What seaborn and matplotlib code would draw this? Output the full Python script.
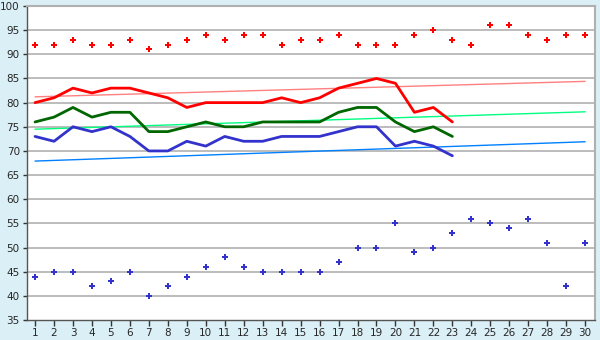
import numpy as np
import pandas as pd
import matplotlib
matplotlib.use("Agg")
import matplotlib.pyplot as plt
import seaborn as sns

days = list(range(1, 31))
line_days = list(range(1, 24))

# dane
red_points = [92, 92, 93, 92, 92, 93, 91, 92, 93, 94, 93, 94, 94, 92, 93,
              93, 94, 92, 92, 92, 94, 95, 93, 92, 96, 96, 94, 93, 94, 94]
blue_points = [44, 45, 45, 42, 43, 45, 40, 42, 44, 46, 48, 46, 45, 45, 45,
               45, 47, 50, 50, 55, 49, 50, 53, 56, 55, 54, 56, 51, 42, 51]
red_line = [80, 81, 83, 82, 83, 83, 82, 81, 79, 80, 80, 80, 80, 81, 80,
            81, 83, 84, 85, 84, 78, 79, 76]
green_line = [76, 77, 79, 77, 78, 78, 74, 74, 75, 76, 75, 75, 76, 76, 76,
              76, 78, 79, 79, 76, 74, 75, 73]
blue_line = [73, 72, 75, 74, 75, 73, 70, 70, 72, 71, 73, 72, 72, 73, 73,
             73, 74, 75, 75, 71, 72, 71, 69]

# linie trendu (początek i koniec)
trend_days = [1, 30]
red_trend = [81.2, 84.4]
green_trend = [74.5, 78.1]
blue_trend = [67.9, 71.9]

sns.set_style("white")
plt.rcParams["font.family"] = ["DejaVu Sans"]

fig = plt.figure(figsize=(6, 3.4), dpi=100, facecolor="#DAEFF6")
ax = fig.add_axes([0.0445, 0.0588, 0.9475, 0.9235])
ax.set_facecolor("white")

for g in np.arange(40, 101, 5):
    ax.axhline(g, color="#B0B0B0", lw=1.2, zorder=0)

sns.lineplot(x=trend_days, y=red_trend, color="#FF8080", lw=1, ax=ax)
sns.lineplot(x=trend_days, y=green_trend, color="#00FF80", lw=1, ax=ax)
sns.lineplot(x=trend_days, y=blue_trend, color="#0080FF", lw=1, ax=ax)

sns.lineplot(x=line_days, y=red_line, color="#FF0000", lw=2, ax=ax)
sns.lineplot(x=line_days, y=green_line, color="#006600", lw=2, ax=ax)
sns.lineplot(x=line_days, y=blue_line, color="#3333CC", lw=2, ax=ax)

sns.scatterplot(x=days, y=red_points, color="#FF0000", marker="P", s=24,
                linewidth=0, ax=ax)
sns.scatterplot(x=days, y=blue_points, color="#3333CC", marker="P", s=24,
                linewidth=0, ax=ax)

ax.set_xlim(0.56, 30.53)
ax.set_ylim(35, 100)
ax.set_xticks(days)
ax.set_yticks(np.arange(35, 101, 5))
ax.tick_params(axis="both", labelsize=7.5, direction="out", length=4,
               width=1, color="#333333", pad=2)
ax.tick_params(axis="x", bottom=True)
ax.tick_params(axis="y", left=True, length=3)

for side in ["left", "bottom"]:
    ax.spines[side].set_color("#555555")
    ax.spines[side].set_linewidth(1)
for side in ["top", "right"]:
    ax.spines[side].set_color("#B0B0B0")
    ax.spines[side].set_linewidth(1.5)

fig.savefig("out.png", dpi=100, facecolor=fig.get_facecolor())
